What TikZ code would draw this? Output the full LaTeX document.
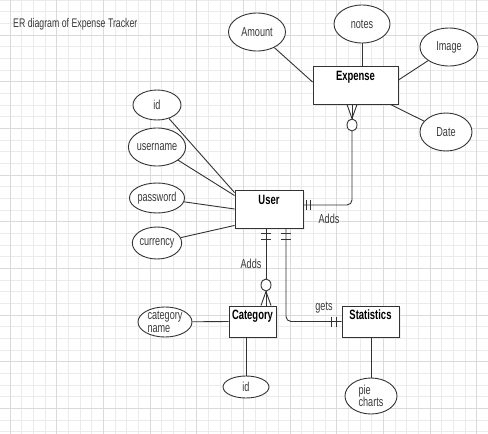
\documentclass[tikz,border=0pt]{standalone}
\usepackage{fontspec}
\setmainfont{Liberation Sans}[FakeStretch=0.7]
\usetikzlibrary{shapes.geometric,shadows,calc}
\definecolor{ln}{HTML}{333333}
\definecolor{txt}{HTML}{3A3A3A}
\definecolor{gmin}{HTML}{EBEBEB}
\definecolor{gmaj}{HTML}{DADADA}
\begin{document}
\begin{tikzpicture}[x=1pt,y=-1pt,
  entity/.style={draw=ln, line width=0.9pt, fill=white, inner sep=0pt,
    drop shadow={shadow xshift=2pt,shadow yshift=-2pt,fill=black!12}},
  ename/.style={font=\fontsize{13.5}{14}\selectfont\bfseries, text=black, inner sep=0pt},
  attr/.style={ellipse, draw=ln, line width=0.9pt, fill=white, inner sep=0pt,
    font=\fontsize{13}{12.7}\selectfont, text=txt, align=left},
  conn/.style={draw=ln, line width=0.9pt},
  lbl/.style={font=\fontsize{13}{14}\selectfont, text=txt, inner sep=0pt},
  opt/.style={ellipse, draw=ln, line width=0.9pt, fill=white,
    minimum width=10pt, minimum height=12pt, inner sep=0pt}
]
\useasboundingbox (0,0) rectangle (488,434);
\fill[white] (0,0) rectangle (488,434);
% grid
\foreach \k in {0,...,37}{\pgfmathsetmacro\yy{\k*11.6667}
  \draw[gmin, line width=0.6pt] (0,\yy) -- (488,\yy);}
\foreach \k in {0,...,41}{\pgfmathsetmacro\xx{10+\k*11.6667}
  \draw[gmin, line width=0.6pt] (\xx,0) -- (\xx,434);}
\foreach \k in {0,...,9}{\pgfmathsetmacro\yy{35+\k*46.6667}
  \draw[gmaj, line width=0.7pt] (0,\yy) -- (488,\yy);}
\foreach \k in {0,...,10}{\pgfmathsetmacro\xx{10+\k*46.6667}
  \draw[gmaj, line width=0.7pt] (\xx,0) -- (\xx,434);}

% title
\node[lbl, anchor=west, font=\fontsize{12.5}{13}\selectfont] (title) at (13,24) {ER diagram of Expense Tracker};

% entities
\node[entity, minimum width=85pt, minimum height=38pt] (exp) at (355.5,85) {};
\node[ename] (expt) at (355.5,77) {Expense};
\node[entity, minimum width=68pt, minimum height=38pt] (user) at (269,209) {};
\node[ename] (usert) at (269,200) {User};
\node[entity, minimum width=47pt, minimum height=31pt] (cat) at (252.5,321.5) {};
\node[ename] (catt) at (252.5,316) {Category};
\node[entity, minimum width=57pt, minimum height=31pt] (stat) at (370.5,321.5) {};
\node[ename] (statt) at (370.5,315) {Statistics};

% attributes
\node[attr, minimum width=57pt, minimum height=38pt] (amount) at (257,32) {Amount};
\node[attr, minimum width=56pt, minimum height=38pt] (notes) at (362,24) {notes};
\node[attr, minimum width=58pt, minimum height=38pt] (image) at (449,47) {Image};
\node[attr, minimum width=52pt, minimum height=38pt] (date) at (446,132) {Date};
\node[attr, minimum width=48pt, minimum height=30pt] (uid) at (157,105) {id};
\node[attr, minimum width=47pt, minimum height=38pt] (uname) at (157,147) {username};
\node[attr, minimum width=47pt, minimum height=30pt] (pwd) at (157,198) {password};
\node[attr, minimum width=47pt, minimum height=32pt] (cur) at (157,243) {currency};
\node[attr, minimum width=54pt, minimum height=30pt] (cname) at (165,322) {category\\name};
\node[attr, minimum width=46pt, minimum height=22pt] (cid) at (246,387) {id};
\node[attr, minimum width=52pt, minimum height=36pt] (pie) at (371,396) {pie\\charts};

% attribute links
\draw[conn] (amount) -- ([yshift=3pt]exp.west);
\draw[conn] (notes.south) -- (notes.south |- exp.north);
\draw[conn] (image) -- ([yshift=5pt]exp.east);
\draw[conn] (date) -- ([xshift=-8pt]exp.south east);
\draw[conn] (uid) -- ([yshift=-3pt]user.north west);
\draw[conn] (uname) -- ([yshift=-6pt]user.north west);
\draw[conn] (pwd) -- (user.west);
\draw[conn] (cur) -- ([yshift=3pt]user.south west);
\draw[conn] (cname) -- (cat.west);
\draw[conn] (cid.north |- cat.south) -- (cid.north);
\draw[conn] (pie.north |- stat.south) -- (pie.north);

% optional circles
\node[opt] (c1) at (352,125) {};
\node[opt] (c2) at (266,285) {};

% User -> Expense
\coordinate (ue) at ([yshift=4pt]user.east);
\draw[conn, rounded corners=5pt] (ue) -| (c1.south);
\draw[conn] ([shift={(3,-5)}]ue) -- ++(0,10);
\draw[conn] ([shift={(7,-5)}]ue) -- ++(0,10);
\draw[conn] (c1.north) -- ($(c1 |- exp.south)+(-5,0)$);
\draw[conn] (c1.north) -- (c1 |- exp.south);
\draw[conn] (c1.north) -- ($(c1 |- exp.south)+(5,0)$);
\node[lbl] (adds1) at (329,219) {Adds};

% User -> Category
\coordinate (uc) at (user.south -| c2);
\draw[conn] (uc) -- (c2.north);
\draw[conn] ([shift={(-5,5)}]uc) -- ++(10,0);
\draw[conn] ([shift={(-5,11)}]uc) -- ++(10,0);
\draw[conn] (c2.south) -- ($(c2 |- cat.north)+(-5,0)$);
\draw[conn] (c2.south) -- (c2 |- cat.north);
\draw[conn] (c2.south) -- ($(c2 |- cat.north)+(5,0)$);
\node[lbl] (adds2) at (251,264) {Adds};

% User -> Statistics
\coordinate (us) at ([xshift=17pt]user.south);
\draw[conn, rounded corners=5pt] (us) |- (stat.west);
\draw[conn] ([shift={(-5,5)}]us) -- ++(10,0);
\draw[conn] ([shift={(-5,11)}]us) -- ++(10,0);
\draw[conn] ([shift={(-10,-5)}]stat.west) -- ++(0,10);
\draw[conn] ([shift={(-5,-5)}]stat.west) -- ++(0,10);
\node[lbl] (gets) at (324,308) {gets};
\end{tikzpicture}
\end{document}
